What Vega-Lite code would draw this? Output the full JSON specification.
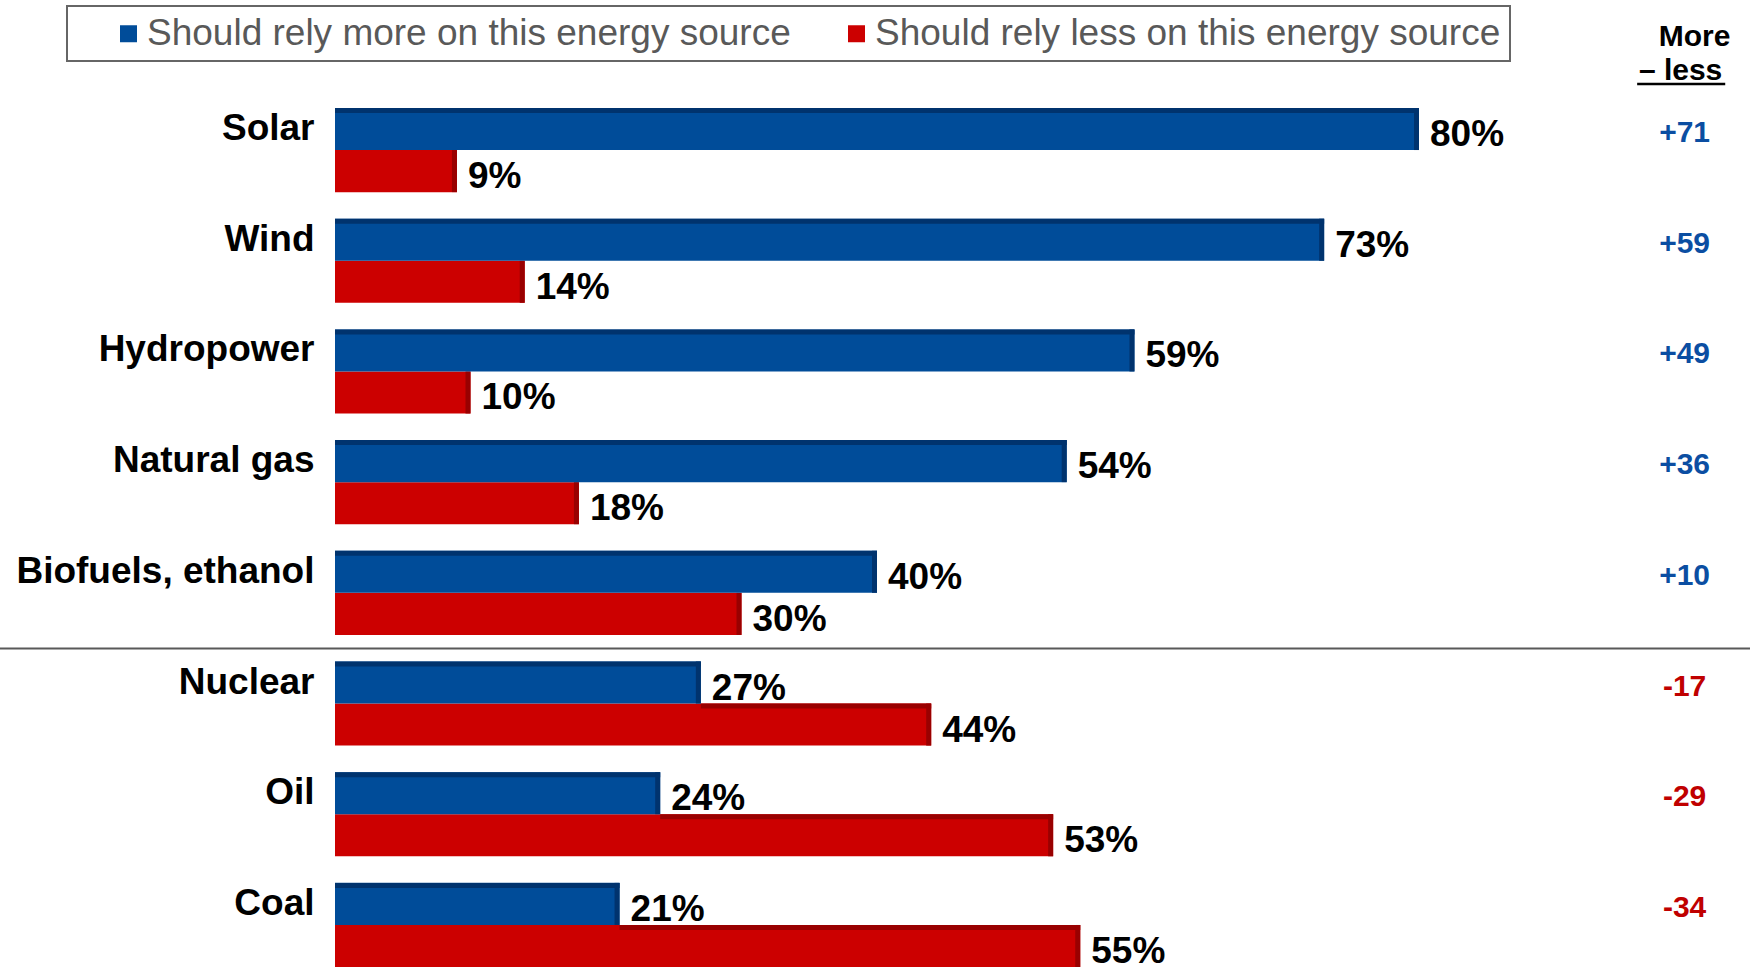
{
  "$schema": "https://vega.github.io/schema/vega-lite/v6.json",
  "width": 1355,
  "height": 859,
  "autosize": {"type": "none"},
  "padding": {"left": 335, "top": 108, "right": 60, "bottom": 0},
  "background": "white",
  "config": {"view": {"stroke": null}, "font": "Liberation Sans", "legend": {"strokeWidth": 2}},
  "data": {"values": [
    {"source": "Solar", "more": 80, "less": 9, "diff": 71},
    {"source": "Wind", "more": 73, "less": 14, "diff": 59},
    {"source": "Hydropower", "more": 59, "less": 10, "diff": 49},
    {"source": "Natural gas", "more": 54, "less": 18, "diff": 36},
    {"source": "Biofuels, ethanol", "more": 40, "less": 30, "diff": 10},
    {"source": "Nuclear", "more": 27, "less": 44, "diff": -17},
    {"source": "Oil", "more": 24, "less": 53, "diff": -29},
    {"source": "Coal", "more": 21, "less": 55, "diff": -34}
  ]},
  "encoding": {
    "y": {
      "field": "source", "type": "nominal", "sort": null, "title": null,
      "scale": {"paddingInner": 0.24, "paddingOuter": 0},
      "axis": {"domain": false, "ticks": false, "grid": false, "labelFont": "Liberation Sans", "labelFontSize": 37, "labelFontWeight": "bold", "labelColor": "black", "labelPadding": 21, "labelOffset": -21, "labelLimit": 400}
    }
  },
  "layer": [
    {
      "mark": {"type": "bar", "color": "#CC0000"},
      "encoding": {
        "x": {"field": "less", "type": "quantitative", "scale": {"domain": [0, 100]}, "axis": null},
        "yOffset": {"datum": "less", "scale": {"domain": ["more", "less"], "paddingInner": 0, "paddingOuter": 0}},
        "color": {"datum": "Should rely less on this energy source", "type": "nominal"}
      }
    },
    {
      "transform": [{"filter": "datum.less > datum.more"}],
      "mark": {"type": "rule", "color": "#990000", "strokeWidth": 5},
      "encoding": {
        "x": {"field": "more", "type": "quantitative"},
        "x2": {"field": "less"},
        "y": {"field": "source", "type": "nominal", "bandPosition": 0.53}
      }
    },
    {
      "mark": {"type": "tick", "orient": "vertical", "color": "#990000", "thickness": 5, "size": 42, "xOffset": -2.5, "opacity": 1},
      "encoding": {
        "x": {"field": "less", "type": "quantitative"},
        "yOffset": {"datum": "less"}
      }
    },
    {
      "mark": {"type": "bar", "color": "#004C99"},
      "encoding": {
        "x": {"field": "more", "type": "quantitative"},
        "yOffset": {"datum": "more"},
        "color": {
          "datum": "Should rely more on this energy source", "type": "nominal",
          "scale": {"domain": ["Should rely more on this energy source", "Should rely less on this energy source"], "range": ["#004C99", "#CC0000"]},
          "legend": {
            "orient": "none", "legendX": -268, "legendY": -102, "direction": "horizontal",
            "title": " ", "titleOrient": "left", "titleFontSize": 10, "titlePadding": 34,
            "symbolType": "square", "symbolSize": 289, "symbolStrokeWidth": 0, "symbolOpacity": 1,
            "labelFont": "Liberation Sans", "labelFontSize": 37, "labelColor": "#595959", "labelOffset": 0, "labelLimit": 2000,
            "gridAlign": "all",
            "columnPadding": 47, "padding": 9, "strokeColor": "#666666"
          }
        }
      }
    },
    {
      "mark": {"type": "rule", "color": "#00336E", "strokeWidth": 5},
      "encoding": {
        "x": {"field": "more", "type": "quantitative"},
        "y": {"field": "source", "type": "nominal", "bandPosition": 0.03}
      }
    },
    {
      "mark": {"type": "tick", "orient": "vertical", "color": "#00336E", "thickness": 5, "size": 42, "xOffset": -2.5, "opacity": 1},
      "encoding": {
        "x": {"field": "more", "type": "quantitative"},
        "yOffset": {"datum": "more"}
      }
    },
    {
      "mark": {"type": "text", "align": "left", "baseline": "middle", "dx": 11, "dy": 6, "fontSize": 37, "fontWeight": "bold", "color": "black", "text": {"expr": "datum.more + '%'"}},
      "encoding": {
        "x": {"field": "more", "type": "quantitative"},
        "yOffset": {"datum": "more"}
      }
    },
    {
      "mark": {"type": "text", "align": "left", "baseline": "middle", "dx": 11, "dy": 6, "fontSize": 37, "fontWeight": "bold", "color": "black", "text": {"expr": "datum.less + '%'"}},
      "encoding": {
        "x": {"field": "less", "type": "quantitative"},
        "yOffset": {"datum": "less"}
      }
    },
    {
      "mark": {"type": "text", "align": "center", "baseline": "middle", "dy": 4, "fontSize": 30, "fontWeight": "bold", "text": {"expr": "(datum.diff > 0 ? '+' : '') + datum.diff"}},
      "encoding": {
        "x": {"datum": 99.6},
        "yOffset": {"datum": "more"},
        "color": {"condition": {"test": "datum.diff > 0", "value": "#0B4EA2"}, "value": "#C00000"}
      }
    },
    {
      "data": {"values": [{}]},
      "mark": {"type": "rule", "color": "#595959", "strokeWidth": 2, "yOffset": -55},
      "encoding": {
        "x": {"datum": -25},
        "x2": {"datum": 105},
        "y": {"datum": "Nuclear", "type": "nominal"}
      }
    },
    {
      "data": {"values": [{}]},
      "mark": {"type": "text", "align": "center", "baseline": "middle", "dx": 10, "dy": -113, "fontSize": 30, "fontWeight": "bold", "color": "black", "text": "More"},
      "encoding": {
        "x": {"datum": 99.6},
        "y": {"datum": "Solar", "type": "nominal"}
      }
    },
    {
      "data": {"values": [{}]},
      "mark": {"type": "text", "align": "center", "baseline": "middle", "dx": -4, "dy": -79, "fontSize": 30, "fontWeight": "bold", "color": "black", "text": "– less"},
      "encoding": {
        "x": {"datum": 99.6},
        "y": {"datum": "Solar", "type": "nominal"}
      }
    },
    {
      "data": {"values": [{}]},
      "mark": {"type": "rule", "color": "black", "strokeWidth": 2.5, "yOffset": -66},
      "encoding": {
        "x": {"datum": 96.1},
        "x2": {"datum": 102.6},
        "y": {"datum": "Solar", "type": "nominal"}
      }
    }
  ]
}
